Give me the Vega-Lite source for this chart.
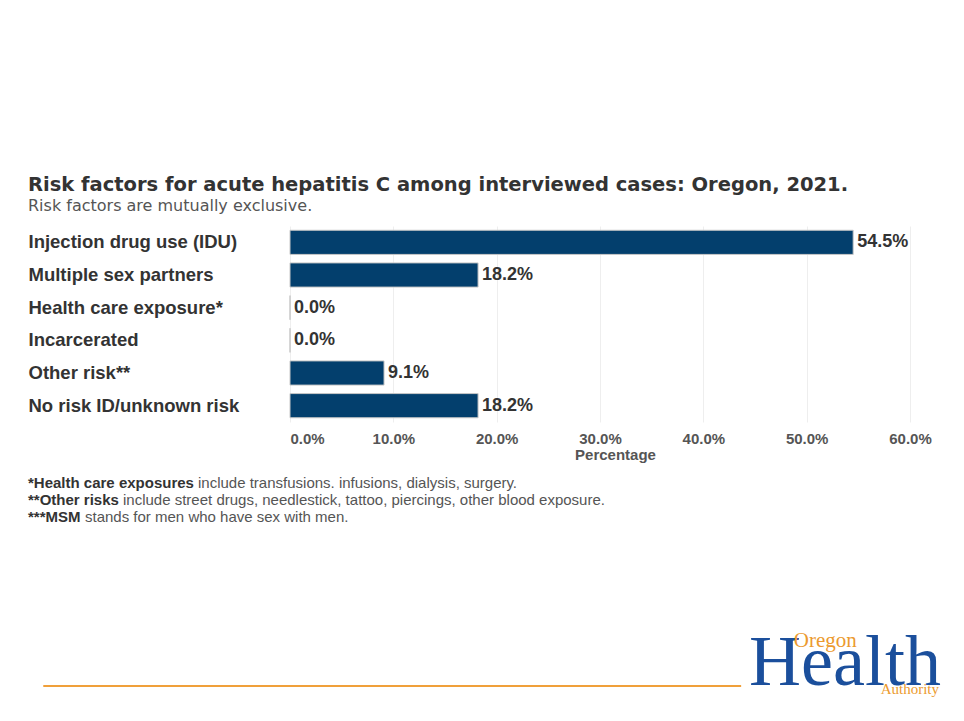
{
  "$schema": "https://vega.github.io/schema/vega-lite/v6.json",
  "background": "white",
  "padding": {"left": 27, "top": 174, "right": 5, "bottom": 5},
  "config": {"view": {"stroke": null}, "font": "Liberation Sans"},
  "columns": 1,
  "spacing": 12,
  "concat": [
    {
      "title": {
        "text": "Risk factors for acute hepatitis C among interviewed cases: Oregon, 2021.",
        "subtitle": "Risk factors are mutually exclusive.",
        "anchor": "start",
        "frame": "bounds",
        "font": "DejaVu Sans",
        "fontSize": 19.5,
        "fontWeight": "bold",
        "color": "#333333",
        "subtitleFont": "DejaVu Sans",
        "subtitleFontSize": 16,
        "subtitleColor": "#555555",
        "subtitlePadding": 3,
        "offset": 11
      },
      "width": 620,
      "height": 196,
      "data": {
        "values": [
          {"factor": "Injection drug use (IDU)", "pct": 0.545},
          {"factor": "Multiple sex partners", "pct": 0.182},
          {"factor": "Health care exposure*", "pct": 0.0},
          {"factor": "Incarcerated", "pct": 0.0},
          {"factor": "Other risk**", "pct": 0.091},
          {"factor": "No risk ID/unknown risk", "pct": 0.182}
        ]
      },
      "encoding": {
        "y": {
          "field": "factor",
          "type": "nominal",
          "sort": null,
          "scale": {"paddingInner": 0.26, "paddingOuter": 0.13},
          "axis": {
            "title": null,
            "domain": false,
            "ticks": false,
            "tickSize": 0,
            "grid": false,
            "labelAlign": "left",
            "labelPadding": 262,
            "labelLimit": 300,
            "labelFont": "Liberation Sans",
            "labelFontSize": 18.5,
            "labelFontWeight": "bold",
            "labelColor": "#333333"
          }
        },
        "x": {
          "field": "pct",
          "type": "quantitative",
          "scale": {"domain": [0, 0.6], "nice": false},
          "axis": {
            "title": "Percentage",
            "format": ".1%",
            "values": [0, 0.1, 0.2, 0.3, 0.4, 0.5, 0.6],
            "domain": false,
            "ticks": false,
            "tickSize": 0,
            "grid": true,
            "gridColor": "#eeeeee",
            "labelPadding": 9,
            "labelFont": "Liberation Sans",
            "labelFontSize": 15,
            "labelFontWeight": "bold",
            "labelColor": "#555555",
            "labelAlign": {"condition": {"test": "datum.value == 0", "value": "left"}, "value": "center"},
            "titleFont": "Liberation Sans",
            "titleFontSize": 15,
            "titleFontWeight": "bold",
            "titleColor": "#555555",
            "titlePadding": 1,
            "titleX": 325
          }
        }
      },
      "layer": [
        {
          "mark": {"type": "bar", "color": "#033f6d", "stroke": "#c8c8c8", "strokeWidth": 1}
        },
        {
          "mark": {
            "type": "text",
            "align": "left",
            "baseline": "middle",
            "dx": 4,
            "font": "Liberation Sans",
            "fontSize": 18,
            "fontWeight": "bold",
            "color": "#333333"
          },
          "encoding": {"text": {"field": "pct", "type": "quantitative", "format": ".1%"}}
        }
      ]
    },
    {
      "width": 600,
      "height": 51,
      "data": {
        "values": [
          {"n": 1, "bold": "*Health care exposures", "rest": "include transfusions. infusions, dialysis, surgery."},
          {"n": 2, "bold": "**Other risks", "rest": "include street drugs, needlestick, tattoo, piercings, other blood exposure."},
          {"n": 3, "bold": "***MSM", "rest": "stands for men who have sex with men."}
        ]
      },
      "encoding": {
        "y": {"field": "n", "type": "ordinal", "axis": null, "scale": {"padding": 0.5}},
        "x": {"datum": -0.43667, "type": "quantitative", "axis": null, "scale": {"domain": [0, 1]}}
      },
      "layer": [
        {
          "mark": {"type": "text", "align": "left", "baseline": "middle", "fontSize": 15, "fontWeight": "bold", "color": "#333333"},
          "encoding": {"text": {"field": "bold"}}
        },
        {
          "transform": [{"filter": "datum.n == 1"}],
          "mark": {"type": "text", "align": "left", "baseline": "middle", "fontSize": 15, "color": "#555555", "dx": 170},
          "encoding": {"text": {"field": "rest"}}
        },
        {
          "transform": [{"filter": "datum.n == 2"}],
          "mark": {"type": "text", "align": "left", "baseline": "middle", "fontSize": 15, "color": "#555555", "dx": 95},
          "encoding": {"text": {"field": "rest"}}
        },
        {
          "transform": [{"filter": "datum.n == 3"}],
          "mark": {"type": "text", "align": "left", "baseline": "middle", "fontSize": 15, "color": "#555555", "dx": 57},
          "encoding": {"text": {"field": "rest"}}
        }
      ]
    },
    {
      "width": 651,
      "height": 170,
      "data": {"values": [{"part": "logo"}]},
      "layer": [
        {
          "mark": {"type": "rule", "color": "#f0a03a", "strokeWidth": 2},
          "encoding": {
            "x": {"datum": -37.9, "type": "quantitative", "axis": null, "scale": {"domain": [0, 100]}},
            "x2": {"datum": 69.3},
            "y": {"datum": 12.3, "type": "quantitative", "axis": null, "scale": {"domain": [0, 100]}}
          }
        },
        {
          "mark": {"type": "text", "align": "right", "baseline": "alphabetic", "font": "Liberation Serif", "fontSize": 72, "color": "#1b4f9c"},
          "encoding": {
            "x": {"datum": 100, "type": "quantitative"},
            "y": {"datum": 12.9, "type": "quantitative"},
            "text": {"value": "Health"}
          }
        },
        {
          "mark": {"type": "text", "align": "left", "baseline": "alphabetic", "font": "Liberation Serif", "fontSize": 21, "color": "#ec9a2e"},
          "encoding": {
            "x": {"datum": 77.4, "type": "quantitative"},
            "y": {"datum": 35.3, "type": "quantitative"},
            "text": {"value": "Oregon"}
          }
        },
        {
          "mark": {"type": "text", "align": "right", "baseline": "alphabetic", "font": "Liberation Serif", "fontSize": 15, "color": "#ec9a2e"},
          "encoding": {
            "x": {"datum": 99.7, "type": "quantitative"},
            "y": {"datum": 7.6, "type": "quantitative"},
            "text": {"value": "Authority"}
          }
        }
      ]
    }
  ]
}
